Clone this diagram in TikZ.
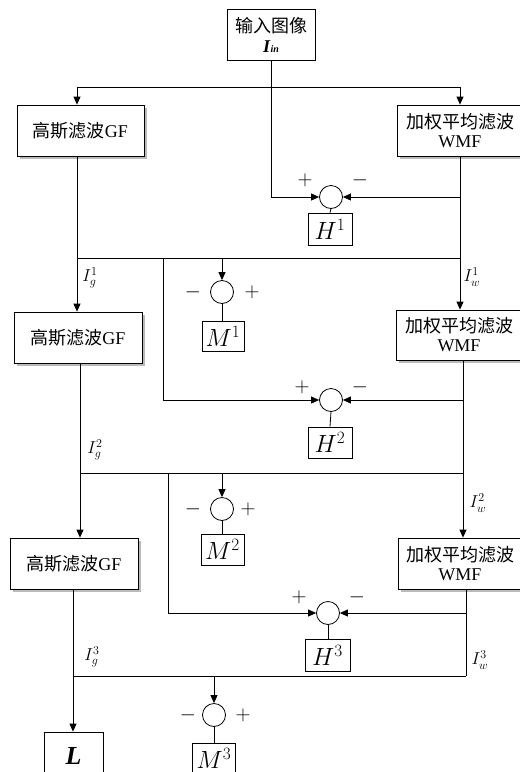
\documentclass[tikz,border=0pt]{standalone}
\usepackage{fontspec}
\setmainfont{Liberation Serif}
\newfontfamily\cjk{Noto Sans CJK SC}
\usetikzlibrary{arrows.meta,shadows}
\begin{document}
\begin{tikzpicture}[x=1pt,y=-1pt,
  line width=0.8pt,
  >={Triangle[length=8pt,width=7pt]},
  blk/.style={draw, fill=white, inner sep=0pt, align=center, font=\fontsize{18}{22}\selectfont},
  shd/.style={blk, drop shadow={shadow xshift=3pt, shadow yshift=-3pt, fill=black!45, opacity=0.6}},
  sumc/.style={draw, circle, fill=white, minimum size=23pt, inner sep=0pt},
  mbox/.style={draw, fill=white, inner sep=0pt, minimum width=43pt, minimum height=31pt, font=\fontsize{24}{24}\selectfont},
  sgn/.style={inner sep=0pt, font=\fontsize{20}{20}\selectfont},
  lbl/.style={inner sep=0pt, font=\fontsize{17}{17}\selectfont}]
\useasboundingbox (0,0) rectangle (520,772);

% boxes
\node[blk, minimum width=88pt, minimum height=51pt] (in) at (271,34.5) {{\cjk 输入图像}\\[-2pt]\textbf{\textit{I}}{\fontsize{10}{10}\selectfont\textbf{\textit{in}}}};
\node[shd, minimum width=127pt, minimum height=51pt] (gf1) at (80.5,130.5) {{\cjk 高斯滤波}GF};
\node[shd, minimum width=126pt, minimum height=51pt] (wmf1) at (460,130.5) {{\cjk 加权平均滤波}\\[-3pt]WMF};
\node[shd, minimum width=128pt, minimum height=51pt] (gf2) at (78,337.5) {{\cjk 高斯滤波}GF};
\node[shd, minimum width=126pt, minimum height=50pt] (wmf2) at (459,335) {{\cjk 加权平均滤波}\\[-3pt]WMF};
\node[shd, minimum width=128pt, minimum height=51pt] (gf3) at (74,563.5) {{\cjk 高斯滤波}GF};
\node[shd, minimum width=124pt, minimum height=51pt] (wmf3) at (460,563.5) {{\cjk 加权平均滤波}\\[-3pt]WMF};
\node[draw, fill=white, inner sep=0pt, minimum width=59pt, minimum height=48pt, font=\fontsize{26}{26}\selectfont] (L) at (73.5,756) {\textbf{\textit{L}}};

% sum circles and result boxes
\node[sumc] (s1) at (331,197) {};
\node[sumc] (s2) at (331,400) {};
\node[sumc] (s3) at (328,613) {};
\node[mbox, minimum width=44pt, minimum height=32pt] (h1) at (330,229) {$H^1$};
\node[mbox, minimum width=44pt] (h2) at (330,442.5) {$H^2$};
\node[mbox, minimum width=45pt, minimum height=32pt] (h3) at (327.5,655) {$H^3$};

\node[sumc] (c1) at (222,292) {};
\node[sumc] (c2) at (222,509) {};
\node[sumc] (c3) at (214,715) {};
\node[mbox, minimum width=42pt, minimum height=30pt] (m1) at (223,336) {$M^1$};
\node[mbox] (m2) at (222.5,549.5) {$M^2$};
\node[mbox] (m3) at (214,758.5) {$M^3$};

% signs
\node[sgn] (p1) at (305,180) {$+$};
\node[sgn] (n1) at (360,180) {$-$};
\node[sgn] (p2) at (302,387) {$+$};
\node[sgn] (n2) at (360,387) {$-$};
\node[sgn] (p3) at (299,597) {$+$};
\node[sgn] (n3) at (357,597) {$-$};
\node[sgn] (q1) at (193,292) {$-$};
\node[sgn] (r1) at (252,292) {$+$};
\node[sgn] (q2) at (193,509) {$-$};
\node[sgn] (r2) at (248,509) {$+$};
\node[sgn] (q3) at (188,715) {$-$};
\node[sgn] (r3) at (243,715) {$+$};

% signal labels
\node[lbl] (lg1) at (90,278) {$I_g^1$};
\node[lbl] (lw1) at (472,277) {$I_w^1$};
\node[lbl] (lg2) at (95,450) {$I_g^2$};
\node[lbl] (lw2) at (478,503) {$I_w^2$};
\node[lbl] (lg3) at (92,657) {$I_g^3$};
\node[lbl] (lw3) at (480,660) {$I_w^3$};

% junction coordinates
\coordinate (a1) at (77,87);   \coordinate (a2) at (460,87);
\coordinate (b1) at (77,258);  \coordinate (b2) at (460,258);
\coordinate (e1) at (80,473);  \coordinate (e2) at (463,473);
\coordinate (f1) at (73,676);  \coordinate (f2) at (466,676);
\coordinate (k1) at (163,258); \coordinate (k2) at (168,473);
\coordinate (d1) at (222,258); \coordinate (d2) at (222,473); \coordinate (d3) at (214,676);

% level 0
\draw[->] (in.south) |- (s1.west);
\draw (a1) -- (a2);
\draw[->] (a1) -- (a1 |- gf1.north);
\draw[->] (a2) -- (a2 |- wmf1.north);

% level 1
\draw[->] (b1 |- gf1.south) -- (b1 |- gf2.north);
\draw[->] (b2 |- wmf1.south) -- (b2 |- wmf2.north);
\draw (b1) -- (b2);
\draw[->] (b2 |- s1) -- (s1.east);
\draw (s1.south) -- (h1.north);
\draw[->] (k1) |- (s2.west);
\draw[->] (d1) -- (c1.north);
\draw (c1.south) -- (c1.south |- m1.north);

% level 2
\draw[->] (e1 |- gf2.south) -- (e1 |- gf3.north);
\draw[->] (e2 |- wmf2.south) -- (e2 |- wmf3.north);
\draw (e1) -- (e2);
\draw[->] (e2 |- s2) -- (s2.east);
\draw (s2.south) -- (h2.north);
\draw[->] (k2) |- (s3.west);
\draw[->] (d2) -- (c2.north);
\draw (c2.south) -- (c2.south |- m2.north);

% level 3
\draw[->] (f1 |- gf3.south) -- (f1 |- L.north);
\draw (f2 |- wmf3.south) -- (f2);
\draw (f1) -- (f2);
\draw[->] (f2 |- s3) -- (s3.east);
\draw (s3.south) -- (s3.south |- h3.north);
\draw[->] (d3) -- (c3.north);
\draw (c3.south) -- (m3.north);
\end{tikzpicture}
\end{document}
